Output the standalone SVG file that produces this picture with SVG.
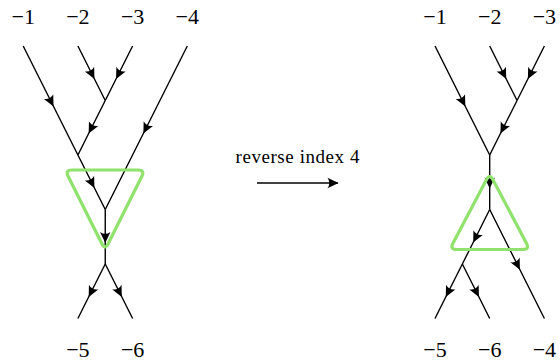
<svg xmlns="http://www.w3.org/2000/svg" width="560" height="361" viewBox="0 0 560 361">
<style>
.e{fill:none;stroke:#000;stroke-width:1.4;marker-mid:url(#ah)}
.g{fill:none;stroke:#90e26c;stroke-width:3.2}
text{font-family:'Liberation Serif','DejaVu Serif','Times New Roman',serif;text-anchor:middle;fill:#000}
.lb{font-size:22px}
.t{font-size:19px}
</style>
<defs>
<marker id="ah" viewBox="-12 -6 13 12" refX="0" refY="0" markerWidth="13" markerHeight="12" markerUnits="userSpaceOnUse" orient="auto">
<path d="M0.5,0 L-10.5,-5.2 Q-6.8,0 -10.5,5.2 Z" fill="#000"/>
</marker>
</defs>
<rect width="560" height="361" fill="#fff"/>
<g id="connectors">
<path class="e" d="M23.2,46 L53.3,106 L77.9,155"/>
<path class="e" d="M77.9,46 L94.2,78.5 L105.25,100.5"/>
<path class="e" d="M132.6,46 L116.3,78.5 L105.25,100.5"/>
<path class="e" d="M105.25,100.5 L88.9,133 L77.9,155"/>
<path class="e" d="M187.3,46 L143.6,133 L105.25,209.5"/>
<path class="e" d="M77.9,155 L94.2,187.5 L105.25,209.5"/>
<path class="e" d="M105.25,209.5 L105.25,242.5 L105.25,264"/>
<path class="e" d="M105.25,264 L88.9,296.5 L77.9,318.5"/>
<path class="e" d="M105.25,264 L121.6,296.5 L132.6,318.5"/>
<path class="e" d="M435,46 L465.1,106 L489.7,155"/>
<path class="e" d="M489.7,46 L506,78.5 L517.05,100.5"/>
<path class="e" d="M544.4,46 L528.1,78.5 L517.05,100.5"/>
<path class="e" d="M517.05,100.5 L500.7,133 L489.7,155"/>
<path class="e" d="M489.7,155 L489.7,188 L489.7,209.5"/>
<path class="e" d="M489.7,209.5 L473.4,242 L462.35,264"/>
<path class="e" d="M489.7,209.5 L519.7,269.3 L544.4,318.5"/>
<path class="e" d="M462.35,264 L446,296.5 L435,318.5"/>
<path class="e" d="M462.35,264 L478.7,296.5 L489.7,318.5"/>
<path d="M257,183 L338,183" fill="none" stroke="#000" stroke-width="1.4" marker-end="url(#ah)"/>
</g>
<g id="highlight-left">
<path class="g" d="M72,170 L138,170 Q145,170 141.87,176.26 L108.13,243.74 Q105,250 101.87,243.74 L68.13,176.26 Q65,170 72,170 Z"/>
</g>
<g id="highlight-right">
<path class="g" d="M486.44,179.69 Q489.7,173.5 492.96,179.69 L526.44,243.31 Q529.7,249.5 522.7,249.5 L456.7,249.5 Q449.7,249.5 452.96,243.31 Z"/>
</g>
<g id="labels-left">
<text class="lb" x="23.2" y="24">−1</text>
<text class="lb" x="77.9" y="24">−2</text>
<text class="lb" x="132.6" y="24">−3</text>
<text class="lb" x="187.3" y="24">−4</text>
<text class="lb" x="77.9" y="357">−5</text>
<text class="lb" x="132.6" y="357">−6</text>
</g>
<g id="labels-right">
<text class="lb" x="435" y="24">−1</text>
<text class="lb" x="489.7" y="24">−2</text>
<text class="lb" x="544.4" y="24">−3</text>
<text class="lb" x="435" y="357">−5</text>
<text class="lb" x="489.7" y="357">−6</text>
<text class="lb" x="544.4" y="357">−4</text>
</g>
<g id="transform-label">
<text class="t" x="297.5" y="163" textLength="124" lengthAdjust="spacing">reverse index 4</text>
</g>
</svg>
